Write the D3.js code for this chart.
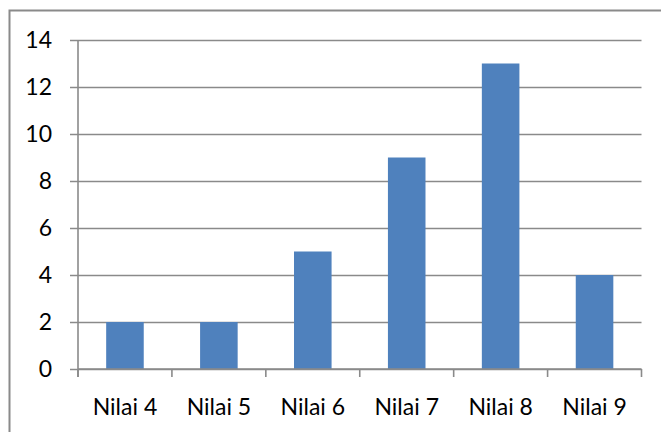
<!DOCTYPE html>
<html>
<head>
<meta charset="utf-8">
<script src="https://cdn.jsdelivr.net/npm/d3@7"></script>
<style>
  html, body { margin: 0; padding: 0; background: #fff; }
  svg { display: block; }
  .tick text { font-family: Lato, "Open Sans", sans-serif; font-size: 23px; fill: #000; }
</style>
</head>
<body>
<div id="chart"></div>
<script>
// Data
const categories = ['Nilai 4', 'Nilai 5', 'Nilai 6', 'Nilai 7', 'Nilai 8', 'Nilai 9'];
const values = [2, 2, 5, 9, 13, 4];
const yTicks = [0, 2, 4, 6, 8, 10, 12, 14];

const width = 661, height = 432;
const plot = { left: 78, right: 641.5, top: 40, bottom: 369 };
const gridColor = '#8a8a8a';

const svg = d3.select('#chart')
    .append('svg')
    .attr('width', width)
    .attr('height', height);

// Chart frame
svg.append('rect')
    .attr('x', 9.5)
    .attr('y', 10.5)
    .attr('width', 660)
    .attr('height', 430)
    .attr('fill', 'none')
    .attr('stroke', gridColor)
    .attr('stroke-width', 2);

const x = d3.scaleBand()
    .domain(categories)
    .range([plot.left, plot.right])
    .paddingInner(0.6)
    .paddingOuter(0.3);

const y = d3.scaleLinear()
    .domain([0, 14])
    .range([plot.bottom, plot.top]);

// Gridlines + y labels
const yAxis = svg.append('g')
    .attr('transform', `translate(${plot.left},0)`)
    .call(d3.axisLeft(y)
        .tickValues(yTicks)
        .tickSize(-(plot.right - plot.left))
        .tickSizeOuter(0)
        .tickPadding(26));
yAxis.select('.domain').remove();
yAxis.selectAll('.tick line')
    .attr('x1', -8)
    .attr('stroke', gridColor)
    .attr('stroke-width', 1.6);

// Bars
svg.append('g')
    .selectAll('rect')
    .data(values)
    .join('rect')
    .attr('x', (d, i) => x(categories[i]))
    .attr('y', d => y(d))
    .attr('width', x.bandwidth())
    .attr('height', d => y(0) - y(d))
    .attr('fill', '#4f81bd');

// Vertical axis line
svg.append('line')
    .attr('x1', plot.left).attr('x2', plot.left)
    .attr('y1', plot.top).attr('y2', plot.bottom + 8)
    .attr('stroke', gridColor)
    .attr('stroke-width', 1.6);

// Horizontal axis with category boundary ticks
const step = (plot.right - plot.left) / categories.length;
const xAxis = svg.append('g')
    .attr('transform', `translate(0,${plot.bottom})`)
    .call(d3.axisBottom(x).tickSize(0).tickPadding(30));
xAxis.select('.domain')
    .attr('d', `M${plot.left},0H${plot.right}`)
    .attr('stroke', gridColor)
    .attr('stroke-width', 1.6);

xAxis.selectAll('.boundary')
    .data(d3.range(categories.length + 1))
    .join('line')
    .attr('class', 'boundary')
    .attr('x1', i => plot.left + i * step)
    .attr('x2', i => plot.left + i * step)
    .attr('y1', 0)
    .attr('y2', 8)
    .attr('stroke', gridColor)
    .attr('stroke-width', 1.6);
</script>
</body>
</html>
